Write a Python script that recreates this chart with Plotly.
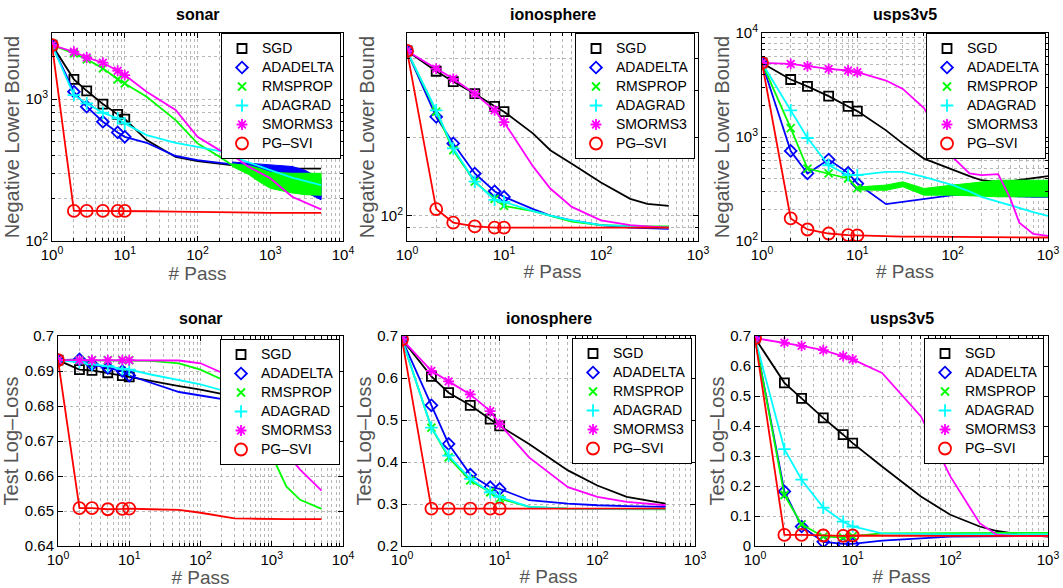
import math
import plotly.graph_objects as go

W, H = 1063, 588

METHODS = ["SGD", "ADADELTA", "RMSPROP", "ADAGRAD", "SMORMS3", "PG–SVI"]
COLORS = ["#000000", "#0000FF", "#00FF00", "#00FFFF", "#FF00FF", "#FF0000"]
SYMBOLS = ["square-open", "diamond-open", "x-thin-open", "cross-thin-open", "asterisk-open", "circle-open"]
SIZES = [9, 9, 8, 9, 9, 12]
MARK_PASSES = [1, 2, 3, 5, 8, 10]

# ---------------- sonar : negative lower bound ----------------
SONAR_NLB_PASS = [1, 2, 3, 5, 8, 10, 20, 50, 100, 200, 300, 500, 1000, 2000, 5000]
SONAR_NLB_SGD = [2400, 1377, 1143, 922, 780, 723, 514, 391, 366, 350, 339, 332, 325, 323, 323]
SONAR_NLB_ADADELTA = [2400, 1126, 883, 692, 582, 542, 492, 397, 372, 358, 347, 335, 316, 269, 205]
SONAR_NLB_RMSPROP = [2400, 2100, 1905, 1645, 1378, 1290, 1038, 711, 487, 393, 342, 318, 270, 259, 255]
SONAR_NLB_ADAGRAD = [2400, 1067, 932, 801, 731, 674, 557, 492, 461, 430, 393, 360, 316, 280, 248]
SONAR_NLB_SMORMS3 = [2400, 2154, 1963, 1803, 1584, 1475, 1126, 837, 542, 437, 403, 334, 277, 205, 167]
SONAR_NLB_PGSVI = [2400, 163, 163, 163, 163, 163, 162, 161, 160, 160, 159, 159, 158, 158, 158]
# noisy envelopes
SONAR_NLB_RMSPROP_BAND_PASS = [300, 500, 700, 1000, 2000, 3000, 5000]
SONAR_NLB_RMSPROP_LOW = [335, 295, 262, 235, 218, 212, 210]
SONAR_NLB_RMSPROP_HIGH = [350, 340, 325, 305, 300, 300, 300]
SONAR_NLB_ADADELTA_BAND_PASS = [300, 1000, 2000, 3000, 5000]
SONAR_NLB_ADADELTA_LOW = [340, 305, 250, 222, 195]
SONAR_NLB_ADADELTA_HIGH = [360, 345, 335, 315, 275]

# ---------------- ionosphere : negative lower bound ----------------
IONO_NLB_PASS = [1, 2, 3, 5, 8, 10, 20, 30, 50, 100, 200, 300, 500]
IONO_NLB_SGD = [427, 357, 326, 293, 262, 250, 206, 178, 158, 134, 116, 111, 109]
IONO_NLB_ADADELTA = [427, 239, 189, 145, 124, 118, 106, 100, 96, 92, 90, 89.5, 89]
IONO_NLB_RMSPROP = [427, 250, 178, 135, 116, 109, 104, 100, 95, 92, 91, 91, 91]
IONO_NLB_ADAGRAD = [427, 253, 181, 135, 115, 113, 104, 100, 96, 92, 91, 90.5, 90]
IONO_NLB_SMORMS3 = [427, 365, 334, 293, 253, 228, 154, 127, 108, 96, 92, 91, 90]
IONO_NLB_PGSVI = [427, 106, 94, 91, 90, 90, 90, 90, 90, 90, 90, 90, 90]

# ---------------- usps3v5 : negative lower bound ----------------
USPS_NLB_PASS = [1, 2, 3, 5, 8, 10, 20, 30, 50, 100, 150, 200, 300, 400, 500, 700, 1000]
USPS_NLB_SGD = [5150, 3573, 3063, 2474, 1968, 1775, 1158, 863, 620, 480, 420, 384, 371, 375, 384, 400, 420]
USPS_NLB_ADADELTA = [5150, 734, 446, 607, 452, 357, 226, 238, 256, 276, 280, 280, 275, 270, 268, 266, 266]
USPS_NLB_RMSPROP = [5150, 1218, 497, 446, 399, 320, 332, 350, 300, 308, 310, 315, 320, 320, 320, 320, 320]
USPS_NLB_ADAGRAD = [5150, 1803, 978, 535, 430, 430, 462, 462, 414, 345, 300, 266, 238, 222, 206, 190, 174]
USPS_NLB_SMORMS3 = [5150, 5040, 4800, 4520, 4360, 4200, 3490, 2900, 1900, 640, 446, 430, 440, 260, 150, 117, 112]
USPS_NLB_PGSVI = [5150, 165, 129, 118, 114, 113, 111, 110, 110, 109, 109, 109, 108, 108, 108, 108, 108]
USPS_NLB_RMSPROP_BAND_PASS = [10, 20, 30, 50, 100, 300, 1000]
USPS_NLB_RMSPROP_LOW = [310, 307, 332, 276, 276, 266, 266]
USPS_NLB_RMSPROP_HIGH = [330, 345, 371, 320, 345, 384, 384]

# ---------------- sonar : test log-loss ----------------
SONAR_TLL_PASS = [1, 2, 3, 5, 8, 10, 20, 50, 100, 200, 300, 500, 800, 1000, 1600, 2500, 5000]
SONAR_TLL_SGD = [0.6931, 0.6904, 0.6902, 0.6895, 0.6887, 0.6883, 0.6871, 0.6857, 0.6847, 0.6835, 0.6828, 0.6818, 0.6795, 0.678, 0.6735, 0.6697, 0.6646]
SONAR_TLL_ADADELTA = [0.6931, 0.6933, 0.6919, 0.6909, 0.6900, 0.6887, 0.6866, 0.6840, 0.6830, 0.6820, 0.6814, 0.6800, 0.6770, 0.6750, 0.6720, 0.6694, 0.6644]
SONAR_TLL_RMSPROP = [0.6931, 0.6931, 0.6931, 0.6931, 0.6931, 0.6931, 0.6929, 0.6922, 0.6904, 0.6876, 0.6838, 0.6785, 0.6694, 0.6660, 0.6570, 0.6532, 0.6506]
SONAR_TLL_ADAGRAD = [0.6931, 0.6925, 0.6919, 0.6914, 0.6906, 0.6904, 0.6890, 0.6875, 0.6862, 0.6845, 0.6830, 0.6810, 0.6790, 0.6770, 0.6730, 0.6700, 0.6650]
SONAR_TLL_SMORMS3 = [0.6931, 0.6931, 0.6931, 0.6931, 0.6931, 0.6931, 0.6931, 0.6930, 0.6922, 0.6895, 0.6855, 0.6810, 0.6750, 0.6720, 0.6665, 0.6618, 0.6558]
SONAR_TLL_PGSVI = [0.6931, 0.6508, 0.6508, 0.6505, 0.6506, 0.6507, 0.6505, 0.6503, 0.6495, 0.6484, 0.6479, 0.6478, 0.6477, 0.6477, 0.6477, 0.6477, 0.6477]

# ---------------- ionosphere : test log-loss ----------------
IONO_TLL_PASS = [1, 2, 3, 5, 8, 10, 20, 50, 100, 200, 500]
IONO_TLL_SGD = [0.692, 0.604, 0.565, 0.535, 0.502, 0.486, 0.443, 0.380, 0.344, 0.317, 0.301]
IONO_TLL_ADADELTA = [0.692, 0.535, 0.443, 0.370, 0.340, 0.336, 0.309, 0.301, 0.297, 0.295, 0.293]
IONO_TLL_RMSPROP = [0.692, 0.482, 0.411, 0.356, 0.328, 0.313, 0.293, 0.289, 0.288, 0.287, 0.287]
IONO_TLL_ADAGRAD = [0.692, 0.482, 0.415, 0.360, 0.328, 0.317, 0.293, 0.289, 0.288, 0.288, 0.288]
IONO_TLL_SMORMS3 = [0.692, 0.617, 0.592, 0.561, 0.521, 0.490, 0.411, 0.340, 0.317, 0.305, 0.297]
IONO_TLL_PGSVI = [0.692, 0.289, 0.289, 0.289, 0.289, 0.289, 0.289, 0.289, 0.289, 0.289, 0.289]

# ---------------- usps3v5 : test log-loss ----------------
USPS_TLL_PASS = [1, 2, 3, 5, 8, 10, 20, 50, 100, 200, 300, 500, 1000]
USPS_TLL_SGD = [0.693, 0.544, 0.492, 0.427, 0.371, 0.343, 0.265, 0.165, 0.104, 0.065, 0.050, 0.039, 0.031]
USPS_TLL_ADADELTA = [0.693, 0.182, 0.065, 0.014, 0.007, 0.007, 0.018, 0.026, 0.031, 0.032, 0.033, 0.033, 0.033]
USPS_TLL_RMSPROP = [0.693, 0.170, 0.072, 0.031, 0.029, 0.033, 0.042, 0.043, 0.043, 0.044, 0.044, 0.044, 0.044]
USPS_TLL_ADAGRAD = [0.693, 0.323, 0.221, 0.128, 0.081, 0.065, 0.042, 0.039, 0.039, 0.039, 0.039, 0.039, 0.039]
USPS_TLL_SMORMS3 = [0.693, 0.678, 0.667, 0.653, 0.633, 0.622, 0.577, 0.432, 0.232, 0.076, 0.037, 0.033, 0.033]
USPS_TLL_PGSVI = [0.693, 0.037, 0.037, 0.035, 0.034, 0.035, 0.034, 0.034, 0.034, 0.034, 0.034, 0.034, 0.034]

# ---------------- tick labels ----------------
LOG_X4_VALS = [1, 10, 100, 1000, 10000]
LOG_X3_VALS = [1, 10, 100, 1000]
LOG_Y_SONAR_VALS = [100, 1000]
LOG_Y_IONO_VALS = [100]
LOG_Y_USPS_VALS = [100, 1000, 10000]
SONAR_TLL_TICKS = [0.64, 0.65, 0.66, 0.67, 0.68, 0.69, 0.70]
SONAR_TLL_LABELS = ["0.64", "0.65", "0.66", "0.67", "0.68", "0.69", "0.7"]
IONO_TLL_TICKS = [0.2, 0.3, 0.4, 0.5, 0.6, 0.7]
IONO_TLL_LABELS = ["0.2", "0.3", "0.4", "0.5", "0.6", "0.7"]
USPS_TLL_TICKS = [0, 0.1, 0.2, 0.3, 0.4, 0.5, 0.6, 0.7]
USPS_TLL_LABELS = ["0", "0.1", "0.2", "0.3", "0.4", "0.5", "0.6", "0.7"]

TITLES = ["sonar", "ionosphere", "usps3v5", "sonar", "ionosphere", "usps3v5"]


def pow_labels(vals):
    return ["10<sup>%d</sup>" % round(math.log10(v)) for v in vals]


def log_minor(lo_dec, hi_dec):
    out = []
    for d in range(lo_dec, hi_dec):
        for k in range(2, 10):
            out.append(k * 10 ** d)
    return out


panels = [
    dict(px=(52, 343), py=(33, 241), passes=SONAR_NLB_PASS,
         series=[SONAR_NLB_SGD, SONAR_NLB_ADADELTA, SONAR_NLB_RMSPROP, SONAR_NLB_ADAGRAD, SONAR_NLB_SMORMS3, SONAR_NLB_PGSVI],
         bands={1: (SONAR_NLB_ADADELTA_BAND_PASS, SONAR_NLB_ADADELTA_LOW, SONAR_NLB_ADADELTA_HIGH),
                2: (SONAR_NLB_RMSPROP_BAND_PASS, SONAR_NLB_RMSPROP_LOW, SONAR_NLB_RMSPROP_HIGH)},
         xr=[0, 4], xt=LOG_X4_VALS, xminor=log_minor(0, 4),
         ylog=True, yr=[2, math.log10(2920)], yt=LOG_Y_SONAR_VALS, ytext=pow_labels(LOG_Y_SONAR_VALS),
         yminor=log_minor(2, 4), ytitle="Negative Lower Bound", leg=(341, 33)),
    dict(px=(407, 698), py=(33, 241), passes=IONO_NLB_PASS,
         series=[IONO_NLB_SGD, IONO_NLB_ADADELTA, IONO_NLB_RMSPROP, IONO_NLB_ADAGRAD, IONO_NLB_SMORMS3, IONO_NLB_PGSVI],
         bands={}, xr=[0, 3], xt=LOG_X3_VALS, xminor=log_minor(0, 3),
         ylog=True, yr=[math.log10(80), math.log10(500)], yt=LOG_Y_IONO_VALS, ytext=pow_labels(LOG_Y_IONO_VALS),
         yminor=log_minor(1, 3), ytitle="Negative Lower Bound", leg=(695, 33)),
    dict(px=(762, 1048), py=(33, 241), passes=USPS_NLB_PASS,
         series=[USPS_NLB_SGD, USPS_NLB_ADADELTA, USPS_NLB_RMSPROP, USPS_NLB_ADAGRAD, USPS_NLB_SMORMS3, USPS_NLB_PGSVI],
         bands={2: (USPS_NLB_RMSPROP_BAND_PASS, USPS_NLB_RMSPROP_LOW, USPS_NLB_RMSPROP_HIGH)},
         xr=[0, 3], xt=LOG_X3_VALS, xminor=log_minor(0, 3),
         ylog=True, yr=[2, 4], yt=LOG_Y_USPS_VALS, ytext=pow_labels(LOG_Y_USPS_VALS),
         yminor=log_minor(2, 4), ytitle="Negative Lower Bound", leg=(1046, 33)),
    dict(px=(58, 343), py=(336, 546), passes=SONAR_TLL_PASS,
         series=[SONAR_TLL_SGD, SONAR_TLL_ADADELTA, SONAR_TLL_RMSPROP, SONAR_TLL_ADAGRAD, SONAR_TLL_SMORMS3, SONAR_TLL_PGSVI],
         bands={}, xr=[0, 4], xt=LOG_X4_VALS, xminor=log_minor(0, 4),
         ylog=False, yr=[0.64, 0.70], yt=SONAR_TLL_TICKS, ytext=SONAR_TLL_LABELS,
         yminor=[], ytitle="Test Log–Loss", leg=(340, 339)),
    dict(px=(402, 695), py=(336, 546), passes=IONO_TLL_PASS,
         series=[IONO_TLL_SGD, IONO_TLL_ADADELTA, IONO_TLL_RMSPROP, IONO_TLL_ADAGRAD, IONO_TLL_SMORMS3, IONO_TLL_PGSVI],
         bands={}, xr=[0, 3], xt=LOG_X3_VALS, xminor=log_minor(0, 3),
         ylog=False, yr=[0.2, 0.7], yt=IONO_TLL_TICKS, ytext=IONO_TLL_LABELS,
         yminor=[], ytitle="Test Log–Loss", leg=(692, 338)),
    dict(px=(755, 1048), py=(336, 546), passes=USPS_TLL_PASS,
         series=[USPS_TLL_SGD, USPS_TLL_ADADELTA, USPS_TLL_RMSPROP, USPS_TLL_ADAGRAD, USPS_TLL_SMORMS3, USPS_TLL_PGSVI],
         bands={}, xr=[0, 3], xt=LOG_X3_VALS, xminor=log_minor(0, 3),
         ylog=False, yr=[0, 0.7], yt=USPS_TLL_TICKS, ytext=USPS_TLL_LABELS,
         yminor=[], ytitle="Test Log–Loss", leg=(1044, 338)),
]

FONT = "Liberation Sans, Arial, Helvetica, sans-serif"
GRID = "#b8b8b8"

fig = go.Figure()
layout = dict(template="none", width=W, height=H, margin=dict(l=0, r=0, t=0, b=0, pad=0),
              paper_bgcolor="white", plot_bgcolor="white", showlegend=True,
              font=dict(family=FONT, size=14, color="black"), annotations=[])

for i, p in enumerate(panels):
    n = i + 1
    xa = "x" if n == 1 else "x%d" % n
    ya = "y" if n == 1 else "y%d" % n
    leg = "legend" if n == 1 else "legend%d" % n
    passes = p["passes"]
    for m, vals in enumerate(p["series"]):
        if m in p["bands"]:
            bx, lo, hi = p["bands"][m]
            fig.add_trace(go.Scatter(x=bx + bx[::-1], y=hi + lo[::-1], mode="lines", fill="toself",
                                     fillcolor=COLORS[m], line=dict(color=COLORS[m], width=1),
                                     showlegend=False, hoverinfo="skip", xaxis=xa, yaxis=ya))
        fig.add_trace(go.Scatter(x=passes, y=vals, mode="lines",
                                 line=dict(color=COLORS[m], width=1.8),
                                 showlegend=False, xaxis=xa, yaxis=ya))
        k = len(MARK_PASSES)
        fig.add_trace(go.Scatter(x=passes[:k], y=vals[:k], mode="markers",
                                 name='<span style="font-size:14px">%s</span>' % METHODS[m],
                                 marker=dict(symbol=SYMBOLS[m], size=SIZES[m], color=COLORS[m],
                                             line=dict(color=COLORS[m], width=1.8)),
                                 showlegend=True, legend=leg, xaxis=xa, yaxis=ya))

    common = dict(showline=True, linecolor="black", linewidth=1, mirror="allticks",
                  ticks="inside", ticklen=5, tickcolor="black", showgrid=True, automargin=False,
                  gridcolor=GRID, griddash="dot", gridwidth=1, zeroline=False,
                  ticklabeloverflow="allow", tickfont=dict(size=15, color="black"))
    xaxis = dict(common, type="log", range=p["xr"], domain=[p["px"][0] / W, p["px"][1] / W],
                 anchor=ya, tickmode="array", tickvals=p["xt"], ticktext=pow_labels(p["xt"]),
                 title=dict(text="# Pass", font=dict(size=19, color="#555555"), standoff=2),
                 minor=dict(tickmode="array", tickvals=p["xminor"], ticks="inside", ticklen=3,
                            tickcolor="black", showgrid=True, gridcolor=GRID, griddash="dot"))
    yaxis = dict(common, type="log" if p["ylog"] else "linear", range=p["yr"],
                 domain=[1 - p["py"][1] / H, 1 - p["py"][0] / H],
                 anchor=xa, tickmode="array", tickvals=p["yt"], ticktext=p["ytext"],
                 title=dict(text=p["ytitle"], font=dict(size=20, color="#555555"), standoff=0))
    if p["yminor"]:
        yaxis["minor"] = dict(tickmode="array", tickvals=p["yminor"], ticks="inside", ticklen=3,
                              tickcolor="black", showgrid=True, gridcolor=GRID, griddash="dot")
    layout["xaxis" if n == 1 else "xaxis%d" % n] = xaxis
    layout["yaxis" if n == 1 else "yaxis%d" % n] = yaxis
    layout[leg] = dict(x=p["leg"][0] / W, y=1 - p["leg"][1] / H, xanchor="right", yanchor="top",
                       xref="paper", yref="paper", bgcolor="white", bordercolor="black", borderwidth=1,
                       font=dict(size=11, color="black", family=FONT), itemwidth=30,
                       tracegroupgap=0)
    cx = (p["px"][0] + p["px"][1]) / 2 / W
    ty = 14 if n <= 3 else 318
    layout["annotations"].append(dict(text="<b>%s</b>" % TITLES[i], x=cx, y=1 - ty / H,
                                      xref="paper", yref="paper", showarrow=False,
                                      xanchor="center", yanchor="middle",
                                      font=dict(size=16, color="black", family=FONT)))

fig.update_layout(**layout)
fig.write_html("out.html", config={"displayModeBar": False},
               post_script="document.body.style.margin='0';document.body.style.overflow='hidden';")
